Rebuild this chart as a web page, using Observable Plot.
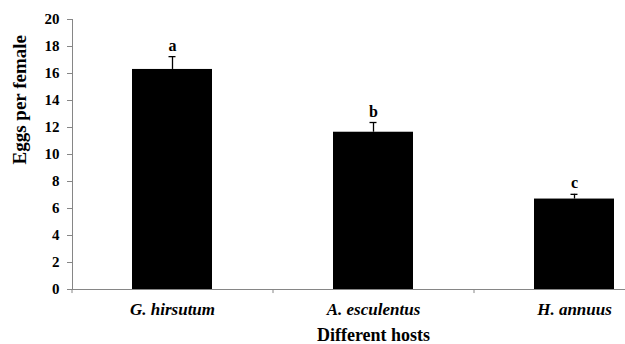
<!DOCTYPE html>
<html>
<head>
<meta charset="utf-8">
<script src="https://cdn.jsdelivr.net/npm/d3@7"></script>
<script src="https://cdn.jsdelivr.net/npm/@observablehq/plot@0.6"></script>
<style>
  html, body { margin: 0; padding: 0; background: #fff; }
  #chart svg { display: block; font-family: "Liberation Serif", "Times New Roman", serif; }
</style>
</head>
<body>
<div id="chart"></div>
<script>
const categories = ["G. hirsutum", "A. esculentus", "H. annuus"];
const means = [16.3, 11.65, 6.7];
const errors = [0.95, 0.72, 0.35];
const letters = ["a", "b", "c"];
const yTicks = [0, 2, 4, 6, 8, 10, 12, 14, 16, 18, 20];
const xTitle = "Different hosts";
const yTitle = "Eggs per female";

const data = categories.map((c, i) => ({host: c, mean: means[i], se: errors[i], letter: letters[i]}));

const W = 625, H = 344;
const left = 72, step = 201;
const axisGrey = "#868686";

const chart = Plot.plot({
  width: W,
  height: H,
  marginLeft: left,
  marginRight: 0,
  marginTop: 19,
  marginBottom: 55,
  style: {fontFamily: "'Liberation Serif', 'Times New Roman', serif", background: "#fff", color: "#000"},
  x: {domain: categories, range: [left, left + step * categories.length], paddingInner: 0.6, paddingOuter: 0.3, label: null, axis: null},
  y: {domain: [0, 20], label: null, axis: null},
  marks: [
    Plot.frame({anchor: "left", stroke: axisGrey}),
    Plot.frame({anchor: "bottom", stroke: axisGrey}),
    Plot.axisY({ticks: yTicks, tickSize: 5, stroke: axisGrey, tickFormat: () => "", label: null}),
    Plot.text(yTicks, {y: d => d, text: d => String(d), frameAnchor: "left", dx: -13, textAnchor: "end", lineAnchor: "middle", fontSize: 15, fontWeight: "bold", fill: "#000"}),
    Plot.text(categories, {x: d => d, text: d => d, frameAnchor: "bottom", dy: 20, lineAnchor: "middle", fontSize: 17, fontWeight: "bold", fontStyle: "italic", fill: "#000"}),
    Plot.ruleX(categories, {x: d => d, dx: -step / 2, y1: 0, y2: -0.3, stroke: axisGrey}),
    Plot.barY(data, {x: "host", y: "mean", fill: "#000"}),
    Plot.ruleX(data, {x: "host", y1: "mean", y2: d => d.mean + d.se, stroke: "#000", strokeWidth: 1.3}),
    Plot.tickY(data, {x: "host", y: d => d.mean + d.se, insetLeft: 36.5, insetRight: 36.5, stroke: "#000", strokeWidth: 1.3}),
    Plot.text(data, {x: "host", y: d => d.mean + d.se, text: "letter", dy: -6, lineAnchor: "bottom", fontSize: 16, fontWeight: "bold", fill: "#000"}),
    Plot.text([xTitle], {x: () => categories[1], frameAnchor: "bottom", text: d => d, dy: 46, lineAnchor: "middle", fontSize: 18, fontWeight: "bold", fill: "#000"}),
    Plot.text([yTitle], {frameAnchor: "left", text: d => d, rotate: -90, dx: -53, dy: 10, lineAnchor: "middle", fontSize: 19, fontWeight: "bold", fill: "#000"})
  ]
});
document.getElementById("chart").appendChild(chart);
</script>
</body>
</html>
